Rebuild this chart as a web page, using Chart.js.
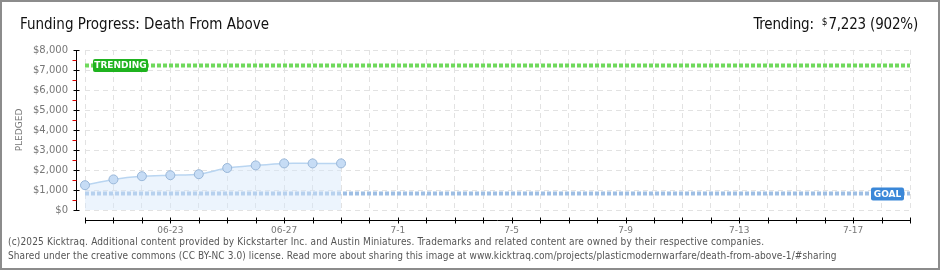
<!DOCTYPE html>
<html>
<head>
<meta charset="utf-8">
<script src="https://cdn.jsdelivr.net/npm/chart.js@4.4.1/dist/chart.umd.min.js"></script>
<style>
  html, body { margin: 0; padding: 0; background: #fff; }
  #wrap { position: relative; width: 940px; height: 270px; box-sizing: border-box; border: 2px solid #8c8c8c; overflow: hidden; }
  #chart { position: absolute; left: -2px; top: -2px; }
  .title { position: absolute; left: 18px; top: 13px; font: 15px "Liberation Sans Narrow", "DejaVu Sans Condensed", sans-serif; color: #111; white-space: nowrap; }
  .trend { position: absolute; right: 20px; top: 13px; font: 15px "Liberation Sans Narrow", "DejaVu Sans Condensed", sans-serif; color: #111; white-space: nowrap; letter-spacing: -0.2px; }
  .trend sup { font-size: 10px; vertical-align: 4px; margin-left: 4px; margin-right: 1px; }
  .foot { position: absolute; left: 6px; font: 10px "DejaVu Sans Condensed", sans-serif; color: #555; white-space: nowrap; }
</style>
</head>
<body>
<div id="wrap">
  <canvas id="chart" width="940" height="270"></canvas>
  <div class="title">Funding Progress: Death From Above</div>
  <div class="trend">Trending: <sup>$</sup>7,223 (902%)</div>
  <div class="foot" style="top:234px; letter-spacing:0.15px">(c)2025 Kicktraq. Additional content provided by Kickstarter Inc. and Austin Miniatures. Trademarks and related content are owned by their respective companies.</div>
  <div class="foot" style="top:248px; letter-spacing:0.1px">Shared under the creative commons (CC BY-NC 3.0) license. Read more about sharing this image at www.kicktraq.com/projects/plasticmodernwarfare/death-from-above-1/#sharing</div>
</div>
<script>
// campaign days (x axis)
const days = ['06-20', '06-21', '06-22', '06-23', '06-24', '06-25', '06-26', '06-27', '06-28', '06-29', '06-30',
  '7-1', '7-2', '7-3', '7-4', '7-5', '7-6', '7-7', '7-8', '7-9', '7-10', '7-11', '7-12', '7-13', '7-14',
  '7-15', '7-16', '7-17', '7-18', '7-19'];
const shownDays = ['06-23', '06-27', '7-1', '7-5', '7-9', '7-13', '7-17'];

// pledged totals so far
const pledged = [1240, 1530, 1690, 1740, 1790, 2100, 2230, 2330, 2330, 2330];

const goal = 800;
const trending = 7223;

const yMax = 8000;
const yStep = 1000;

// dotted lines, badges and hand-drawn axes
const overlay = {
  id: 'overlay',
  beforeDatasetsDraw(chart) {
    const { ctx, chartArea } = chart;
    const y = chart.scales.y;
    const lines = [
      { v: trending, color: '#6fd95c' },
      { v: goal, color: '#9fbfe4' }
    ];
    ctx.save();
    lines.forEach(l => {
      const py = Math.round(y.getPixelForValue(l.v)) - 0.5;
      ctx.strokeStyle = l.color;
      ctx.lineWidth = 4;
      ctx.setLineDash([4, 2]);
      ctx.beginPath();
      ctx.moveTo(chartArea.left, py);
      ctx.lineTo(chartArea.right, py);
      ctx.stroke();
    });
    ctx.restore();
  },
  afterDraw(chart) {
    const { ctx, chartArea } = chart;
    const x = chart.scales.x;
    const y = chart.scales.y;
    ctx.save();
    // y axis
    const ax = 76.5;
    ctx.strokeStyle = '#000';
    ctx.lineWidth = 1;
    ctx.beginPath();
    ctx.moveTo(ax, chartArea.top);
    ctx.lineTo(ax, chartArea.bottom + 1);
    ctx.stroke();
    for (let v = 0; v <= yMax; v += yStep / 2) {
      const py = Math.round(y.getPixelForValue(v)) + 0.5;
      ctx.beginPath();
      if (v % yStep === 0) {
        ctx.strokeStyle = '#000';
        ctx.moveTo(ax - 3, py);
        ctx.lineTo(ax + 3, py);
      } else {
        ctx.strokeStyle = '#e00000';
        ctx.moveTo(ax - 4, py);
        ctx.lineTo(ax, py);
      }
      ctx.stroke();
    }
    // x axis
    const ay = 220.5;
    ctx.strokeStyle = '#000';
    ctx.beginPath();
    ctx.moveTo(chartArea.left, ay);
    ctx.lineTo(chartArea.right, ay);
    ctx.stroke();
    days.forEach((d, i) => {
      const px = Math.round(x.getPixelForValue(i)) + 0.5;
      ctx.beginPath();
      ctx.moveTo(px, ay - 3);
      ctx.lineTo(px, ay + 3);
      ctx.stroke();
    });
    // badges
    const badge = (text, color, bx, cy, w) => {
      ctx.fillStyle = color;
      ctx.beginPath();
      ctx.roundRect(bx, cy - 6.5, w, 13, 2);
      ctx.fill();
      ctx.fillStyle = '#fff';
      ctx.font = 'bold 9px "DejaVu Sans"';
      ctx.textBaseline = 'middle';
      ctx.textAlign = 'center';
      ctx.fillText(text, bx + w / 2, cy + 0.5);
    };
    badge('TRENDING', '#1fb31f', chartArea.left + 8, y.getPixelForValue(trending), 55);
    badge('GOAL', '#3a87d8', chartArea.right - 39, y.getPixelForValue(goal), 33);
    ctx.restore();
  }
};

new Chart(document.getElementById('chart'), {
  type: 'line',
  data: {
    labels: days,
    datasets: [{
      label: 'Pledged',
      data: pledged,
      borderColor: '#b9d5f1',
      borderWidth: 1.5,
      backgroundColor: 'rgba(212, 230, 250, 0.45)',
      fill: 'origin',
      tension: 0.25,
      pointRadius: 4.5,
      pointBackgroundColor: '#c6dcf5',
      pointBorderColor: '#98b6d8',
      pointBorderWidth: 1
    }]
  },
  options: {
    responsive: false,
    animation: false,
    layout: { padding: { top: 50, right: 30, bottom: 0, left: 0 } },
    plugins: { legend: { display: false }, tooltip: { enabled: false } },
    scales: {
      x: {
        offset: false,
        afterFit(scale) { scale.height = 60; },
        border: { display: false, dash: [5, 4] },
        grid: { color: '#e2e2e2', drawTicks: false },
        ticks: {
          autoSkip: false,
          maxRotation: 0,
          padding: 15,
          color: '#777',
          font: { family: 'DejaVu Sans', size: 9 },
          callback(v, i) { return shownDays.includes(days[i]) ? days[i] : ''; }
        }
      },
      y: {
        min: 0,
        max: yMax,
        afterFit(scale) { scale.width = 85; },
        border: { display: false, dash: [5, 4] },
        grid: { color: '#e2e2e2', drawTicks: false },
        title: {
          display: true,
          text: 'PLEDGED',
          color: '#777',
          font: { family: 'DejaVu Sans', size: 9 },
          padding: { top: 14, bottom: 0 }
        },
        ticks: {
          stepSize: yStep,
          padding: 17,
          color: '#777',
          font: { family: 'DejaVu Sans', size: 10 },
          callback(v) { return '$' + v.toLocaleString('en-US'); }
        }
      }
    }
  },
  plugins: [overlay]
});
</script>
</body>
</html>
